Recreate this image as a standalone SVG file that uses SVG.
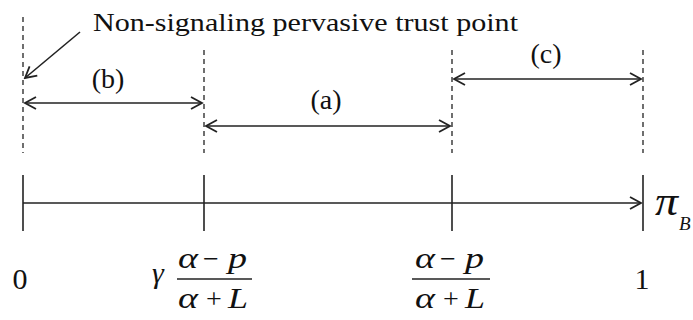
<svg xmlns="http://www.w3.org/2000/svg" width="693" height="320" viewBox="0 0 693 320">
<style>
text{font-family:'Liberation Serif','Times New Roman',serif;fill:#111}
.m{font-style:italic}
.d{stroke:#222;stroke-width:1.3;stroke-dasharray:5,4;fill:none}
.l{stroke:#222;stroke-width:1.6;fill:none}
</style>
<defs>
<marker id="ah" markerWidth="14" markerHeight="14" refX="12" refY="7" orient="auto-start-reverse" markerUnits="userSpaceOnUse">
<path d="M1,1 L12,7 L1,13" fill="none" stroke="#222" stroke-width="1.8"/>
</marker>
</defs>
<g id="guides">
<line class="d" x1="23" y1="17" x2="23" y2="153"/>
<line class="d" x1="204" y1="50" x2="204" y2="153"/>
<line class="d" x1="452" y1="50" x2="452" y2="153"/>
<line class="d" x1="643" y1="50" x2="643" y2="153"/>
</g>
<g id="axis">
<line class="l" x1="23" y1="203" x2="641" y2="203" stroke-width="2" marker-end="url(#ah)"/>
<line class="l" x1="23" y1="175" x2="23" y2="231"/>
<line class="l" x1="204" y1="175" x2="204" y2="231"/>
<line class="l" x1="452" y1="175" x2="452" y2="231"/>
<line class="l" x1="643" y1="175" x2="643" y2="231"/>
</g>
<g id="connectors">
<line class="l" x1="25" y1="103" x2="202" y2="103" marker-start="url(#ah)" marker-end="url(#ah)"/>
<line class="l" x1="206" y1="126" x2="450" y2="126" marker-start="url(#ah)" marker-end="url(#ah)"/>
<line class="l" x1="454" y1="79" x2="641" y2="79" marker-start="url(#ah)" marker-end="url(#ah)"/>
<line class="l" x1="80" y1="32" x2="25" y2="78" marker-end="url(#ah)"/>
</g>
<g id="labels">
<text x="93" y="31" font-size="26" textLength="425" lengthAdjust="spacingAndGlyphs">Non-signaling pervasive trust point</text>
<text x="108" y="88" font-size="28" text-anchor="middle">(b)</text>
<text x="326" y="109" font-size="28" text-anchor="middle">(a)</text>
<text x="546" y="63" font-size="28" text-anchor="middle">(c)</text>
<text x="20" y="289" font-size="30" text-anchor="middle">0</text>
<text x="642" y="289" font-size="30" text-anchor="middle">1</text>
<text class="m" x="655" y="215" font-size="42" textLength="23" lengthAdjust="spacingAndGlyphs">π</text>
<text class="m" x="679" y="230" font-size="19">B</text>
</g>
<g id="frac1">
<text class="m" x="152" y="283" font-size="30">γ</text>
<text class="m" x="178" y="268" font-size="30" textLength="20" lengthAdjust="spacingAndGlyphs">α</text>
<text x="211" y="268" font-size="28" text-anchor="middle">−</text>
<text class="m" x="228" y="268" font-size="30" textLength="19" lengthAdjust="spacingAndGlyphs">p</text>
<line class="l" x1="177" y1="279" x2="252" y2="279"/>
<text class="m" x="178" y="308" font-size="30" textLength="20" lengthAdjust="spacingAndGlyphs">α</text>
<text x="214" y="308" font-size="28" text-anchor="middle">+</text>
<text class="m" x="228" y="308" font-size="30" textLength="20" lengthAdjust="spacingAndGlyphs">L</text>
</g>
<g id="frac2">
<text class="m" x="415" y="268" font-size="30" textLength="20" lengthAdjust="spacingAndGlyphs">α</text>
<text x="448" y="268" font-size="28" text-anchor="middle">−</text>
<text class="m" x="465" y="268" font-size="30" textLength="19" lengthAdjust="spacingAndGlyphs">p</text>
<line class="l" x1="412" y1="279" x2="490" y2="279"/>
<text class="m" x="415" y="308" font-size="30" textLength="20" lengthAdjust="spacingAndGlyphs">α</text>
<text x="451" y="308" font-size="28" text-anchor="middle">+</text>
<text class="m" x="465" y="308" font-size="30" textLength="20" lengthAdjust="spacingAndGlyphs">L</text>
</g>
</svg>
